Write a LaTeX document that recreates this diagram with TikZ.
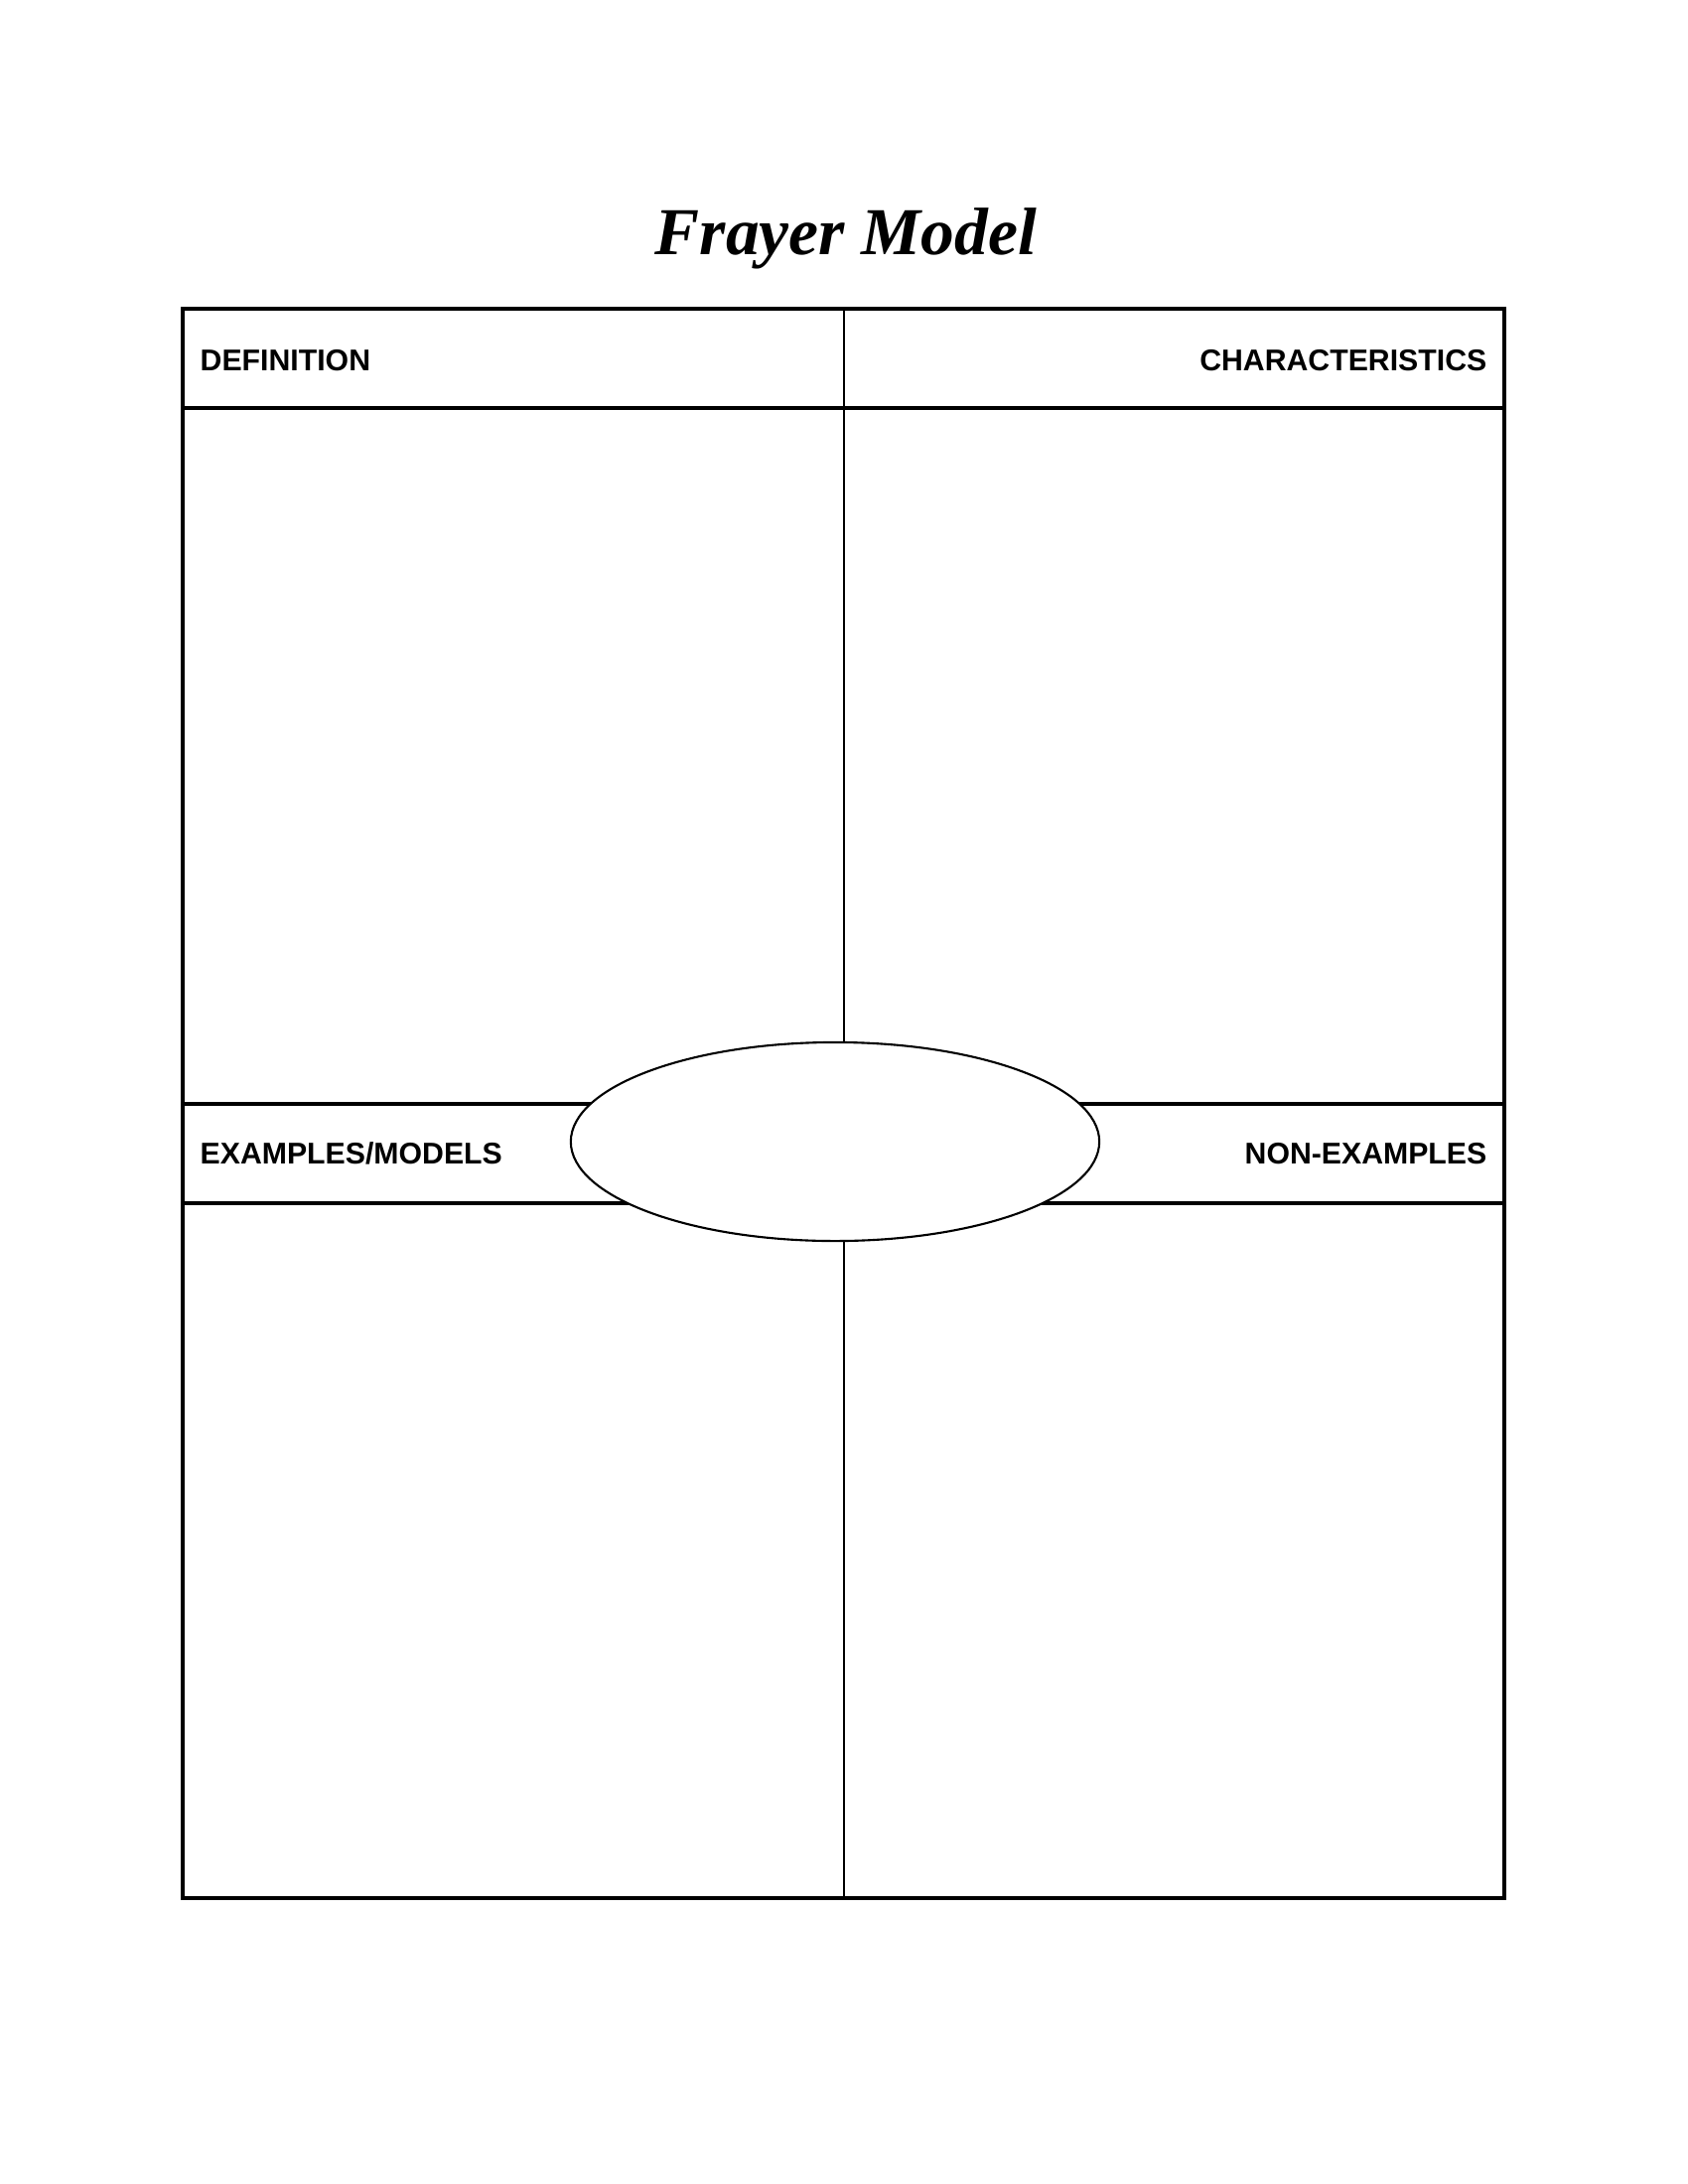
\documentclass[tikz,border=0pt]{standalone}
\usepackage{fontspec}
\setmainfont{Liberation Serif}
\setsansfont{Liberation Sans}
\usetikzlibrary{shapes.geometric}
\begin{document}
\begin{tikzpicture}[x=0.01cm,y=-0.01cm,
  outer/.style={line width=0.95pt},
  band/.style={line width=0.9pt},
  thin/.style={line width=0.35pt},
  lbl/.style={inner sep=0pt,font=\sffamily\bfseries\fontsize{8.6}{10}\selectfont},
  oval/.style={draw,ellipse,fill=white,line width=0.6pt,inner sep=0pt,minimum width=5.32cm,minimum height=2.0cm}]
\useasboundingbox[fill=white] (0,0) rectangle (1700,2200);
\node[inner sep=0pt,anchor=base,font=\bfseries\itshape\fontsize{19.2}{23}\selectfont] (title) at (852,257) {Frayer Model};
% lines
\coordinate (tl) at (184,311);
\coordinate (br) at (1515,1912);
\draw[thin] (850,311) -- (850,1912);
\draw[band] (184,411) -- (1515,411);
\draw[band] (184,1112) -- (1515,1112);
\draw[band] (184,1212) -- (1515,1212);
\draw[outer] (tl) rectangle (br);
\node[oval] (center) at (841,1150) {};
\node[lbl,anchor=base west] (def) at (201,373) {DEFINITION};
\node[lbl,anchor=base east] (char) at (1498,373) {CHARACTERISTICS};
\node[lbl,anchor=base west] (ex) at (201,1172) {EXAMPLES/MODELS};
\node[lbl,anchor=base east] (nonex) at (1498,1172) {NON-EXAMPLES};
\end{tikzpicture}
\end{document}
